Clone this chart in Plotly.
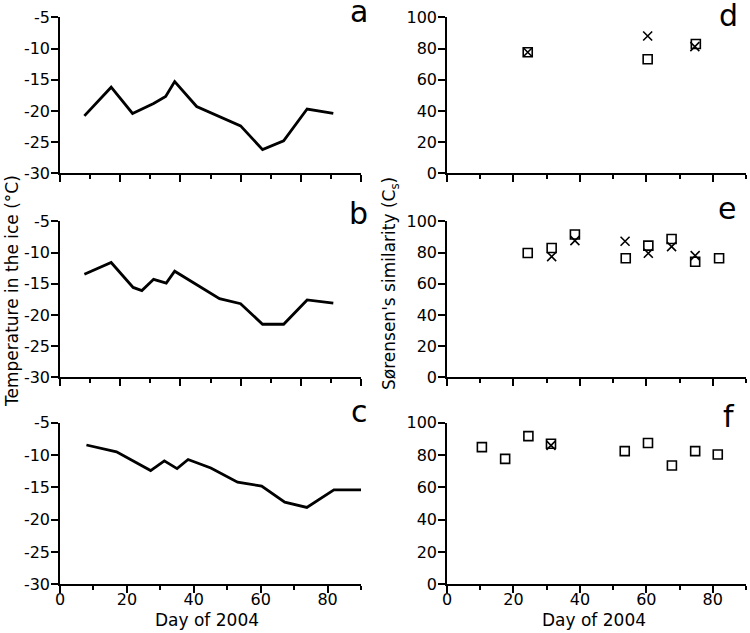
import plotly.graph_objects as go

W, H = 750, 633

# ---------------- data ----------------
days_a = [8.1, 17.0, 24.1, 31.1, 35.1, 38.1, 45.4, 52.7, 60.0, 67.3, 74.3, 82.1, 90.8]
temp_a = [-20.8, -16.2, -20.4, -18.8, -17.7, -15.3, -19.3, -20.8, -22.4, -26.2, -24.8, -19.7, -20.4]

days_b = [8.1, 17.0, 24.3, 27.2, 31.1, 35.3, 38.1, 45.4, 53.0, 60.0, 67.3, 74.3, 82.1, 90.8]
temp_b = [-13.5, -11.6, -15.6, -16.1, -14.3, -14.9, -13.0, -15.2, -17.4, -18.2, -21.5, -21.5, -17.6, -18.1]

days_c = [7.9, 16.9, 27.1, 31.2, 35.0, 38.3, 45.1, 53.1, 60.3, 67.2, 73.8, 81.9, 90.0]
temp_c = [-8.45, -9.5, -12.4, -10.9, -12.1, -10.7, -12.0, -14.2, -14.8, -17.3, -18.1, -15.4, -15.4]

d_sq_days = [24.3, 60.4, 74.9]
d_sq_vals = [77.6, 73.1, 82.9]
d_x_days = [24.3, 60.4, 74.6]
d_x_vals = [77.6, 88.0, 81.2]

e_sq_days = [24.3, 31.5, 38.5, 53.8, 60.6, 67.6, 74.7, 81.9]
e_sq_vals = [79.7, 82.9, 91.5, 76.3, 84.4, 88.7, 74.1, 76.3]
e_x_days = [31.5, 38.5, 53.6, 60.6, 67.6, 74.7]
e_x_vals = [77.4, 87.6, 87.2, 79.5, 83.8, 78.0]

f_sq_days = [10.5, 17.5, 24.5, 31.3, 53.5, 60.5, 67.7, 74.7, 81.5]
f_sq_vals = [84.9, 77.6, 91.7, 87.0, 82.4, 87.4, 73.5, 82.4, 80.3]
f_x_days = [31.3]
f_x_vals = [86.0]

temp_ticks = [-30, -25, -20, -15, -10, -5]
temp_ticktext = ["-30", "-25", "-20", "-15", "-10", "-5"]
sim_ticks = [0, 20, 40, 60, 80, 100]
sim_ticktext = ["0", "20", "40", "60", "80", "100"]
day_major_100 = [0, 20, 40, 60, 80, 100]
day_minor_100 = [10, 30, 50, 70, 90]
day_major_90 = [0, 20, 40, 60, 80]
day_minor_90 = [10, 30, 50, 70, 90]
panel_letters = ["a", "b", "c", "d", "e", "f"]

# ---------------- layout geometry (pixels) ----------------
FONT = "DejaVu Sans"
left_x = (60, 361)
right_x = (447, 746)
rows_y = [(17.3, 173.3), (221.3, 377.3), (422.7, 584.3)]


def xd(px):
    return [px[0] / W, px[1] / W]


def yd(py):
    return [1 - py[1] / H, 1 - py[0] / H]


fig = go.Figure()

line_style = dict(color="black", width=2.8)
sq_style = dict(symbol="square-open", size=9, color="black", line=dict(color="black", width=1.6))
x_style = dict(symbol="x-thin-open", size=9, color="black", line=dict(color="black", width=1.6))

fig.add_trace(go.Scatter(x=days_a, y=temp_a, mode="lines", line=line_style, xaxis="x", yaxis="y"))
fig.add_trace(go.Scatter(x=days_b, y=temp_b, mode="lines", line=line_style, xaxis="x2", yaxis="y2"))
fig.add_trace(go.Scatter(x=days_c, y=temp_c, mode="lines", line=line_style, xaxis="x3", yaxis="y3"))

for i, (sd, sv, xdays, xv) in enumerate([
    (d_sq_days, d_sq_vals, d_x_days, d_x_vals),
    (e_sq_days, e_sq_vals, e_x_days, e_x_vals),
    (f_sq_days, f_sq_vals, f_x_days, f_x_vals),
]):
    k = i + 4
    fig.add_trace(go.Scatter(x=xdays, y=xv, mode="markers", marker=x_style,
                             xaxis=f"x{k}", yaxis=f"y{k}", cliponaxis=False))
    fig.add_trace(go.Scatter(x=sd, y=sv, mode="markers", marker=sq_style,
                             xaxis=f"x{k}", yaxis=f"y{k}", cliponaxis=False))

tickfont = dict(family=FONT, size=16, color="black")


def xaxis(dom, rng, major, minor, labels, anchor):
    return dict(domain=xd(dom), range=rng, anchor=anchor, showline=True, linecolor="black",
                linewidth=1.5, ticks="outside", ticklen=7, tickwidth=1.5, tickcolor="black",
                tickmode="array", tickvals=major, ticktext=[str(v) for v in major],
                showticklabels=labels, tickfont=tickfont, showgrid=False, zeroline=False,
                automargin=False, ticklabelstandoff=-7,
                minor=dict(tickmode="array", tickvals=minor, ticks="outside", ticklen=4,
                           tickwidth=1.5, tickcolor="black", showgrid=False),
                fixedrange=True)


def yaxis(dom, rng, tv, tt, anchor):
    return dict(domain=yd(dom), range=rng, anchor=anchor, showline=True, linecolor="black",
                linewidth=1.5, ticks="outside", ticklen=7, tickwidth=1.5, tickcolor="black",
                tickmode="array", tickvals=tv, ticktext=tt, tickfont=tickfont,
                ticklabelstandoff=-2,
                showgrid=False, zeroline=False, fixedrange=True, automargin=False)


layout = dict(
    template="none",
    width=W, height=H, autosize=False,
    margin=dict(l=0, r=0, t=0, b=0, pad=0),
    paper_bgcolor="white", plot_bgcolor="white",
    showlegend=False,
    font=dict(family=FONT, size=16, color="black"),
)

layout["xaxis"] = xaxis(left_x, [0, 100], day_major_100, day_minor_100, False, "y")
layout["yaxis"] = yaxis(rows_y[0], [-30, -5], temp_ticks, temp_ticktext, "x")
layout["xaxis2"] = xaxis(left_x, [0, 100], day_major_100, day_minor_100, False, "y2")
layout["yaxis2"] = yaxis(rows_y[1], [-30, -5], temp_ticks, temp_ticktext, "x2")
layout["xaxis3"] = xaxis(left_x, [0, 90], day_major_90, day_minor_90, True, "y3")
layout["yaxis3"] = yaxis(rows_y[2], [-30, -5], temp_ticks, temp_ticktext, "x3")
for k, r in zip([4, 5, 6], range(3)):
    layout[f"xaxis{k}"] = xaxis(right_x, [0, 90], day_major_90, day_minor_90, k == 6, f"y{k}")
    layout[f"yaxis{k}"] = yaxis(rows_y[r], [0, 100], sim_ticks, sim_ticktext, f"x{k}")

fig.update_layout(**layout)

ann = []
letter_pos = [(370, 23), (370, 225), (370, 423), (740, 27), (738, 220), (737, 428)]
for letter, (px, base) in zip(panel_letters, letter_pos):
    ann.append(dict(text=letter, x=px / W, y=1 - base / H, xref="paper", yref="paper",
                    xanchor="right", yanchor="bottom", yshift=-8, showarrow=False,
                    font=dict(family=FONT, size=30, color="black")))

ann.append(dict(text="Temperature in the ice (°C)", x=12 / W, y=1 - 291 / H, xref="paper",
                yref="paper", xanchor="center", yanchor="middle", textangle=-90,
                showarrow=False, font=dict(family=FONT, size=17, color="black")))
ann.append(dict(text="Sørensen's similarity (C<sub>s</sub>)", x=390 / W, y=1 - 284 / H,
                xref="paper", yref="paper", xanchor="center", yanchor="middle", textangle=-90,
                showarrow=False, font=dict(family=FONT, size=17, color="black")))
ann.append(dict(text="Day of 2004", x=207 / W, y=1 - 620 / H, xref="paper", yref="paper",
                xanchor="center", yanchor="middle", showarrow=False,
                font=dict(family=FONT, size=17, color="black")))
ann.append(dict(text="Day of 2004", x=594 / W, y=1 - 620 / H, xref="paper", yref="paper",
                xanchor="center", yanchor="middle", showarrow=False,
                font=dict(family=FONT, size=17, color="black")))
fig.update_layout(annotations=ann)

fig.write_html("out.html", config={"displayModeBar": False},
               post_script="document.body.style.margin='0px';document.body.style.padding='0px';")
